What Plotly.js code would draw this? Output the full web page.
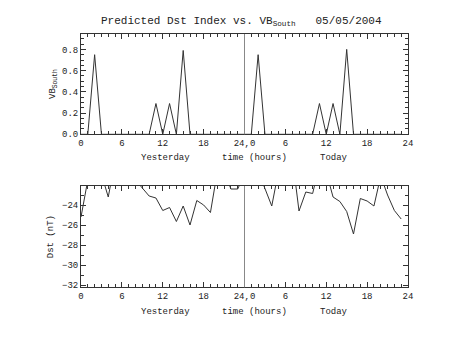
<!DOCTYPE html>
<html>
<head>
<meta charset="utf-8">
<script src="https://cdn.plot.ly/plotly-3.0.1.min.js"></script>
<style>html,body{margin:0;padding:0;background:#fff;}#chart{width:453px;height:340px;}</style>
</head>
<body>
<div id="chart"></div>
<script>
// hours 0..47 (yesterday 0-23, today 24-47)
const hours = Array.from({length: 48}, (_, i) => i);
const vbSouth = [
  0, 0, 0.75, 0, 0, 0, 0, 0, 0, 0, 0, 0.29, 0, 0.29, 0, 0.79, 0, 0, 0, 0, 0, 0, 0, 0,
  0, 0, 0.75, 0, 0, 0, 0, 0, 0, 0, 0, 0.29, 0, 0.29, 0, 0.80, 0, 0, 0, 0, 0, 0, 0, 0
];
const dst = [
  -25.2, -21.5, -20.5, -20.9, -23.2, -19.6, -20.0, -20.5, -21.5, -22.3, -23.1, -23.3,
  -24.55, -24.25, -25.65, -24.1, -26.0, -23.55, -24.0, -24.75, -20.7, -20.5, -22.4, -22.4,
  -20.9, -20.8, -20.6, -22.35, -24.1, -20.6, -20.0, -19.1, -24.6, -22.7, -22.85, -20.0,
  -20.7, -23.2, -23.65, -24.65, -26.9, -23.35, -23.6, -24.1, -21.1, -23.0, -24.55, -25.4
];
const tickVals = [0, 6, 12, 18, 24, 30, 36, 42, 48];
const tickText = ['0', '6', '12', '18', '24,0', '6', '12', '18', '24'];
const vbTicks = [0, 0.2, 0.4, 0.6, 0.8];
const vbTickText = ['0.0', '0.2', '0.4', '0.6', '0.8'];
const dstTicks = [-32, -30, -28, -26, -24];

const W = 453, H = 340;
const px = v => v / W, py = v => 1 - v / H;
const FONT = 'Liberation Mono, Courier New, monospace';
const TXT = '#222';
const AX = '#333';

const xCommon = {
  range: [0, 48], tickmode: 'array', tickvals: tickVals, ticktext: tickText,
  ticks: 'inside', ticklen: 5, tickcolor: AX, showline: true, linecolor: AX, linewidth: 1,
  mirror: 'ticks', showgrid: false, zeroline: false,
  minor: {dtick: 1, ticks: 'inside', ticklen: 3, tickcolor: AX, showgrid: false},
  tickfont: {family: FONT, size: 9, color: TXT}, domain: [px(81), px(408)]
};

const data = [
  {x: hours, y: vbSouth, type: 'scatter', mode: 'lines', xaxis: 'x', yaxis: 'y',
   line: {color: '#333', width: 1}, hoverinfo: 'skip'},
  {x: hours, y: dst, type: 'scatter', mode: 'lines', xaxis: 'x2', yaxis: 'y2',
   line: {color: '#333', width: 1}, hoverinfo: 'skip'}
];

const layout = {
  width: W, height: H, margin: {l: 0, r: 0, t: 0, b: 0},
  paper_bgcolor: '#fff', plot_bgcolor: '#fff', showlegend: false,
  font: {family: FONT, color: TXT},
  xaxis: Object.assign({}, xCommon, {anchor: 'y'}),
  xaxis2: Object.assign({}, xCommon, {anchor: 'y2'}),
  yaxis: {
    domain: [py(134.3), py(34)], range: [0, 0.945], anchor: 'x',
    tickmode: 'array', tickvals: vbTicks, ticktext: vbTickText,
    ticks: 'inside', ticklen: 5, tickcolor: AX, showline: true, linecolor: AX, mirror: 'ticks',
    showgrid: false, zeroline: false,
    minor: {dtick: 0.05, ticks: 'inside', ticklen: 3, tickcolor: AX, showgrid: false},
    tickfont: {family: FONT, size: 9, color: TXT},
    title: {text: 'VB<sub>South</sub>', font: {family: FONT, size: 9, color: TXT}, standoff: 4}
  },
  yaxis2: {
    domain: [py(287.3), py(186)], range: [-32.23, -22.1], anchor: 'x2',
    tickmode: 'array', tickvals: dstTicks,
    ticks: 'inside', ticklen: 5, tickcolor: AX, showline: true, linecolor: AX, mirror: 'ticks',
    showgrid: false, zeroline: false,
    minor: {dtick: 1, ticks: 'inside', ticklen: 3, tickcolor: AX, showgrid: false},
    tickfont: {family: FONT, size: 9, color: TXT},
    title: {text: 'Dst (nT)', font: {family: FONT, size: 9, color: TXT}, standoff: 6}
  },
  shapes: [
    {type: 'line', xref: 'x', yref: 'y domain', x0: 24, x1: 24, y0: 0, y1: 1, line: {color: '#888', width: 1}},
    {type: 'line', xref: 'x2', yref: 'y2 domain', x0: 24, x1: 24, y0: 0, y1: 1, line: {color: '#888', width: 1}}
  ],
  annotations: [
    {text: 'Predicted Dst Index vs. VB<sub>South</sub>\u00a0\u00a0\u00a005/05/2004', xref: 'paper', yref: 'paper',
     x: px(241), y: py(22), xanchor: 'center', yanchor: 'middle', showarrow: false,
     font: {family: FONT, size: 11, color: TXT}},
    {text: 'Yesterday', xref: 'paper', yref: 'paper', x: px(165.5), y: py(157.5), xanchor: 'center', yanchor: 'middle', showarrow: false, font: {family: FONT, size: 9, color: TXT}},
    {text: 'time (hours)', xref: 'paper', yref: 'paper', x: px(254.7), y: py(157.5), xanchor: 'center', yanchor: 'middle', showarrow: false, font: {family: FONT, size: 9, color: TXT}},
    {text: 'Today', xref: 'paper', yref: 'paper', x: px(333.8), y: py(157.5), xanchor: 'center', yanchor: 'middle', showarrow: false, font: {family: FONT, size: 9, color: TXT}},
    {text: 'Yesterday', xref: 'paper', yref: 'paper', x: px(165.5), y: py(311.5), xanchor: 'center', yanchor: 'middle', showarrow: false, font: {family: FONT, size: 9, color: TXT}},
    {text: 'time (hours)', xref: 'paper', yref: 'paper', x: px(254.7), y: py(311.5), xanchor: 'center', yanchor: 'middle', showarrow: false, font: {family: FONT, size: 9, color: TXT}},
    {text: 'Today', xref: 'paper', yref: 'paper', x: px(333.8), y: py(311.5), xanchor: 'center', yanchor: 'middle', showarrow: false, font: {family: FONT, size: 9, color: TXT}}
  ]
};

Plotly.newPlot('chart', data, layout, {staticPlot: true, displayModeBar: false});
</script>
</body>
</html>
